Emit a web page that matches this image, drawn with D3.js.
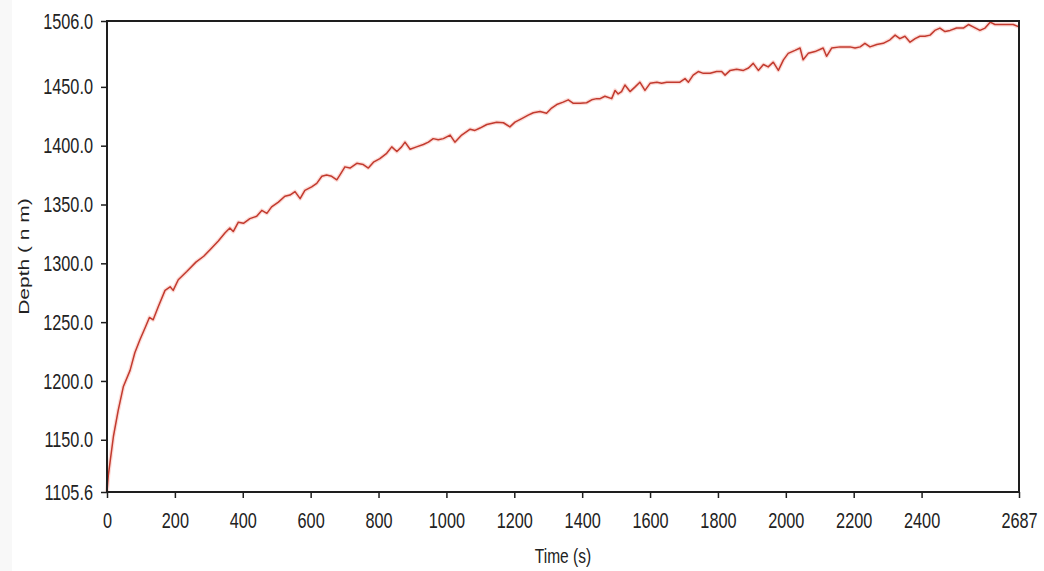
<!DOCTYPE html>
<html>
<head>
<meta charset="utf-8">
<script src="https://cdn.jsdelivr.net/npm/d3@7"></script>
<style>
  html, body { margin: 0; padding: 0; background: #fff; }
  svg text { font-family: "Liberation Sans", Arial, sans-serif; fill: #222; }
</style>
</head>
<body>
<svg id="chart" width="1044" height="571"></svg>
<script>
// Indentation depth over time
const timeSec = [
  0, 4, 9, 19, 33, 48, 68, 82, 97, 112,
  125, 136, 151, 171, 186, 195, 210, 235, 262, 285,
  305, 328, 348, 362, 372, 387, 402, 421, 441, 456,
  471, 485, 505, 524, 539, 554, 569, 583, 603, 618,
  633, 647, 662, 677, 686, 701, 716, 736, 755, 770,
  785, 804, 824, 839, 854, 868, 878, 893, 912, 932,
  947, 961, 976, 991, 1011, 1025, 1045, 1070, 1084, 1099,
  1119, 1148, 1168, 1187, 1202, 1222, 1241, 1256, 1276, 1295,
  1310, 1325, 1344, 1359, 1374, 1394, 1413, 1428, 1443, 1453,
  1467, 1487, 1497, 1506, 1516, 1526, 1541, 1556, 1570, 1585,
  1600, 1620, 1634, 1649, 1669, 1688, 1703, 1713, 1727, 1742,
  1757, 1777, 1796, 1811, 1821, 1836, 1855, 1875, 1890, 1904,
  1919, 1934, 1948, 1963, 1978, 1993, 2007, 2027, 2042, 2051,
  2066, 2086, 2110, 2120, 2135, 2160, 2189, 2204, 2219, 2233,
  2248, 2268, 2287, 2307, 2322, 2336, 2351, 2366, 2381, 2395,
  2410, 2425, 2439, 2454, 2469, 2484, 2503, 2523, 2538, 2552,
  2572, 2587, 2602, 2616, 2631, 2651, 2670, 2687
];

const depthNm = [
  1105.6, 1120, 1131, 1153, 1175, 1195, 1209, 1224, 1235, 1245,
  1254, 1252, 1263, 1277, 1280, 1277, 1286, 1293, 1301, 1306,
  1312, 1319, 1326, 1330, 1327, 1335, 1334, 1338, 1340, 1345,
  1342.5, 1348, 1352, 1357, 1358, 1361, 1355, 1362, 1365, 1368,
  1374, 1375, 1374, 1371, 1375, 1382, 1381, 1385, 1384, 1381,
  1386, 1389, 1393.5, 1399, 1395, 1399, 1403, 1397, 1399, 1401,
  1403, 1406, 1405, 1406, 1409, 1403, 1409, 1414, 1413, 1415,
  1418, 1420, 1419.5, 1416, 1420, 1423, 1426, 1428, 1429, 1427.5,
  1432, 1435, 1437, 1439, 1436, 1436, 1436.5, 1439, 1440, 1440,
  1442, 1440, 1447, 1444, 1446, 1451.6, 1446, 1450, 1454, 1447,
  1453, 1454, 1453, 1454, 1454, 1454, 1457, 1454, 1460, 1463,
  1461.5, 1461.5, 1463, 1463, 1460, 1464, 1465, 1464, 1466, 1470,
  1464, 1469, 1467, 1471, 1464, 1473, 1478.5, 1481, 1483, 1473,
  1478.5, 1480, 1483, 1476, 1483, 1484, 1484, 1483, 1484, 1487,
  1484, 1486, 1487, 1490, 1494, 1491, 1493, 1488, 1491, 1493,
  1493, 1494, 1498, 1500, 1497, 1498, 1500, 1500, 1503, 1501,
  1498, 1500, 1505, 1503, 1503, 1503, 1503, 1501
];

const xTicks = [0, 200, 400, 600, 800, 1000, 1200, 1400, 1600, 1800, 2000, 2200, 2400, 2687];
const yTicks = [1105.6, 1150, 1200, 1250, 1300, 1350, 1400, 1450, 1506.0];

const xDomain = [0, 2687];
const yDomain = [1105.6, 1506.0];

const svg = d3.select("#chart");
const W = 1044, H = 571;
const margin = { left: 107, right: 25, top: 21, bottom: 79 };
const squeeze = 0.74; // horizontal condensing of all lettering

// faint strip along the left edge of the canvas
svg.append("rect").attr("x", 0).attr("y", 0).attr("width", 12).attr("height", H).attr("fill", "#f8f8f8");

const x = d3.scaleLinear().domain(xDomain).range([margin.left, W - margin.right]);
const y = d3.scaleLinear().domain(yDomain).range([H - margin.bottom, margin.top]);

// data line
const pts = timeSec.map((t, i) => [t, depthNm[i]]);
const line = d3.line().x(d => x(d[0])).y(d => y(d[1]));

svg.append("path")
  .datum(pts)
  .attr("fill", "none")
  .attr("stroke", "#fcdcd8")
  .attr("stroke-width", 4)
  .attr("stroke-linejoin", "round")
  .attr("d", line);

svg.append("path")
  .datum(pts)
  .attr("fill", "none")
  .attr("stroke", "#c23a2e")
  .attr("stroke-width", 1.5)
  .attr("stroke-linejoin", "round")
  .attr("d", line);

// plot frame
svg.append("rect")
  .attr("x", x(xDomain[0])).attr("y", y(yDomain[1]))
  .attr("width", x(xDomain[1]) - x(xDomain[0]))
  .attr("height", y(yDomain[0]) - y(yDomain[1]))
  .attr("fill", "none").attr("stroke", "#1e1e1e").attr("stroke-width", 2);

// axes
const xAxis = d3.axisBottom(x).tickValues(xTicks).tickSize(6).tickPadding(14)
  .tickFormat(d3.format("d"));
const yAxis = d3.axisLeft(y).tickValues(yTicks).tickSize(6).tickPadding(8)
  .tickFormat(d3.format(".1f"));

const gx = svg.append("g").attr("transform", `translate(0,${y(yDomain[0])})`).call(xAxis);
const gy = svg.append("g").attr("transform", `translate(${x(xDomain[0])},0)`).call(yAxis);

[gx, gy].forEach(g => {
  g.select(".domain").remove();
  g.selectAll(".tick line").attr("stroke", "#1e1e1e").attr("stroke-width", 1.5);
  g.selectAll(".tick text").attr("font-size", 22).attr("fill", "#222")
    .style("font-family", '"Liberation Sans", Arial, sans-serif');
});

// condense tick labels horizontally around their anchor point
gx.selectAll(".tick text").each(function () {
  const t = d3.select(this);
  const ty = +t.attr("y");
  t.attr("y", 0).attr("dy", "0.71em").attr("transform", `translate(0,${ty}) scale(${squeeze},1)`);
});
gy.selectAll(".tick text").each(function () {
  const t = d3.select(this);
  const tx = +t.attr("x");
  t.attr("x", 0).attr("transform", `translate(${tx},0) scale(${squeeze},1)`);
});

// axis titles
svg.append("text")
  .attr("transform", `translate(${(x(xDomain[0]) + x(xDomain[1])) / 2},563) scale(${squeeze},1)`)
  .attr("text-anchor", "middle")
  .attr("font-size", 21)
  .text("Time (s)");

svg.append("text")
  .attr("transform", `translate(29,${(y(yDomain[0]) + y(yDomain[1])) / 2}) rotate(-90) scale(1,${squeeze})`)
  .attr("text-anchor", "middle")
  .attr("font-size", 21)
  .text("Depth ( n m)");
</script>
</body>
</html>
